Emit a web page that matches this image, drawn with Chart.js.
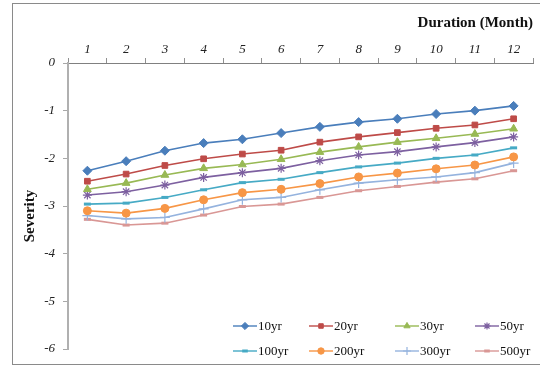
<!DOCTYPE html>
<html><head><meta charset="utf-8">
<script src="https://cdn.jsdelivr.net/npm/chart.js@4.4.0/dist/chart.umd.min.js"></script>
<style>html,body{margin:0;padding:0;background:#fff}#wrap{width:540px;height:366px;position:relative}</style>
</head><body><div id="wrap"><canvas id="c" width="540" height="366"></canvas></div>
<script>
const months = ['1','2','3','4','5','6','7','8','9','10','11','12'];
const yr10  = [-2.26,-2.06,-1.84,-1.68,-1.60,-1.47,-1.34,-1.24,-1.17,-1.07,-1.00,-0.90];
const yr20  = [-2.48,-2.33,-2.15,-2.01,-1.91,-1.83,-1.66,-1.55,-1.46,-1.37,-1.30,-1.17];
const yr30  = [-2.65,-2.52,-2.35,-2.21,-2.13,-2.02,-1.87,-1.76,-1.66,-1.58,-1.49,-1.38];
const yr50  = [-2.77,-2.70,-2.56,-2.40,-2.30,-2.21,-2.05,-1.93,-1.86,-1.76,-1.67,-1.55];
const yr100 = [-2.96,-2.94,-2.82,-2.66,-2.51,-2.44,-2.30,-2.18,-2.10,-2.00,-1.93,-1.78];
const yr200 = [-3.10,-3.15,-3.05,-2.87,-2.72,-2.65,-2.53,-2.39,-2.31,-2.22,-2.14,-1.97];
const yr300 = [-3.20,-3.27,-3.24,-3.06,-2.87,-2.82,-2.66,-2.52,-2.45,-2.39,-2.30,-2.10];
const yr500 = [-3.28,-3.40,-3.36,-3.19,-3.01,-2.96,-2.82,-2.68,-2.59,-2.50,-2.43,-2.26];
const seriesNames = ['10yr','20yr','30yr','50yr','100yr','200yr','300yr','500yr'];
const yMin = -6, yMax = 0, yStep = 1;
const xTitle = 'Duration (Month)';
const yTitle = 'Severity';

const seriesData = [yr10, yr20, yr30, yr50, yr100, yr200, yr300, yr500];
const colors = ['#4A7EBB','#BE4B48','#98B954','#7D60A0','#46AAC5','#F79646','#95B3DE','#D99795'];
const styles = ['rectRot','rect','triangle','star','line','circle','cross','line'];
const radii  = [4.5,4,4.5,4.5,3.5,4,5,3.5];
const pbw    = [1,1,1,1.2,3,1,1.2,3];

const datasets = seriesNames.map((n,i)=>({
  label:n, data:seriesData[i], borderColor:colors[i], backgroundColor:colors[i],
  borderWidth:1.6, pointStyle:styles[i], pointRadius:radii[i], pointBorderWidth:pbw[i],
  pointBackgroundColor:colors[i], pointBorderColor:colors[i], tension:0, fill:false
}));

const SERIF = "'Liberation Serif','DejaVu Serif',serif";

const framePlugin = {
  id:'frame',
  beforeDraw(chart){
    const c = chart.ctx;
    c.save();
    c.fillStyle='#fff'; c.fillRect(0,0,chart.width,chart.height);
    c.strokeStyle='#8a8a8a'; c.lineWidth=1;
    c.strokeRect(12.5,3.5,600,361);
    c.restore();
  },
  afterDraw(chart){
    const c = chart.ctx, a = chart.chartArea;
    c.save();
    // y title
    c.translate(30, (a.top+a.bottom)/2 + 10);
    c.rotate(-Math.PI/2);
    c.font = "bold 15px " + SERIF;
    c.fillStyle = '#111';
    c.textAlign='center'; c.textBaseline='middle';
    c.fillText(yTitle, 0, 0);
    c.restore();
    // legend
    const cols = [233, 309, 395, 475];
    const rows = [326, 351];
    chart.data.datasets.forEach((d,i)=>{
      const x0 = cols[i%4], y = rows[Math.floor(i/4)];
      c.save();
      c.strokeStyle = d.borderColor; c.lineWidth = 1.4;
      c.beginPath(); c.moveTo(x0,y); c.lineTo(x0+24,y); c.stroke();
      c.fillStyle = d.pointBackgroundColor; c.strokeStyle = d.pointBorderColor;
      c.lineWidth = d.pointBorderWidth;
      Chart.helpers.drawPoint(c, {pointStyle:d.pointStyle, radius:d.pointRadius*0.8, borderWidth:d.pointBorderWidth, rotation:0}, x0+12, y);
      c.font = "13px " + SERIF; c.fillStyle='#111';
      c.textAlign='left'; c.textBaseline='middle';
      c.fillText(d.label, x0+25, y+1);
      c.restore();
    });
  }
};

new Chart(document.getElementById('c'), {
  type:'line',
  data:{labels:months, datasets},
  options:{
    responsive:false, animation:false, devicePixelRatio:1,
    layout:{padding:{left:12, top:0, right:3, bottom:17}},
    plugins:{legend:{display:false}, tooltip:{enabled:false}},
    scales:{
      x:{
        type:'category', position:'top', offset:true,
        grid:{offset:true, drawOnChartArea:false, drawTicks:true, tickLength:5, color:'#909090'},
        border:{display:true, color:'#808080', width:1},
        ticks:{font:{family:SERIF, size:13, style:'italic'}, color:'#222', padding:1, maxRotation:0, autoSkip:false},
        title:{display:true, text:xTitle, align:'end', color:'#111', font:{family:SERIF, size:15, weight:'bold'}, padding:{top:14, bottom:0}},
        afterFit(s){ s.height = 63; }
      },
      y:{
        type:'linear', min:yMin, max:yMax,
        grid:{drawOnChartArea:false, drawTicks:true, tickLength:5, color:'#a8a8a8'},
        border:{display:true, color:'#b0b0b0', width:2},
        ticks:{stepSize:yStep, font:{family:SERIF, size:13, style:'italic'}, color:'#222', padding:8},
        afterFit(s){ s.width = 56; }
      }
    }
  },
  plugins:[framePlugin]
});
</script></body></html>
